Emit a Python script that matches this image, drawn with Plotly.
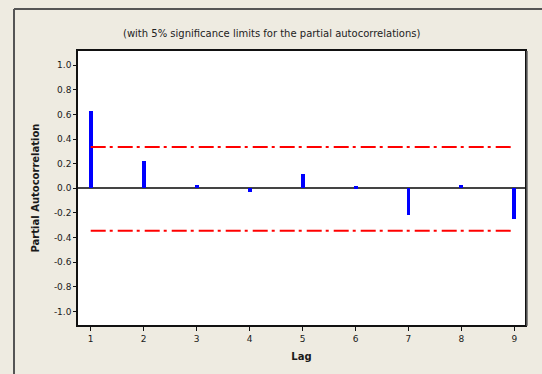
import plotly.graph_objects as go

lags = [1, 2, 3, 4, 5, 6, 7, 8, 9]
pacf = [0.63, 0.22, 0.03, -0.03, 0.12, 0.015, -0.22, 0.03, -0.25]
upper_limit = 0.335
lower_limit = -0.345
y_ticks = [1.0, 0.8, 0.6, 0.4, 0.2, 0.0, -0.2, -0.4, -0.6, -0.8, -1.0]
y_tick_text = ["1.0", "0.8", "0.6", "0.4", "0.2", "0.0", "-0.2", "-0.4", "-0.6", "-0.8", "-1.0"]

FONT = "DejaVu Sans, Liberation Sans, sans-serif"
BG = "#EEEBE1"

fig = go.Figure()

fig.add_trace(go.Bar(x=lags, y=pacf, width=0.075, marker=dict(color="#0000FF", line=dict(width=0)),
                     showlegend=False, hoverinfo="x+y"))
fig.add_trace(go.Scatter(x=[lags[0], lags[-1]], y=[upper_limit, upper_limit], mode="lines",
                         line=dict(color="#FF0000", width=2, dash="15px,4px,3px,5px"), showlegend=False))
fig.add_trace(go.Scatter(x=[lags[0], lags[-1]], y=[lower_limit, lower_limit], mode="lines",
                         line=dict(color="#FF0000", width=2, dash="15px,4px,3px,5px"), showlegend=False))

fig.update_layout(
    width=542, height=374,
    margin=dict(l=78, r=17, t=51, b=49),
    paper_bgcolor=BG, plot_bgcolor="white",
    font=dict(family=FONT, size=9, color="#1a1a1a"),
    bargap=0,
    xaxis=dict(range=[0.76, 9.2], tickmode="array", tickvals=lags, ticktext=[str(v) for v in lags],
               showgrid=False, zeroline=False, showline=True, linecolor="#111111", linewidth=1.5,
               mirror=True, ticks="outside", ticklen=4, tickwidth=1, tickcolor="#111111",
               title=dict(text="<b>Lag</b>", standoff=10, font=dict(size=10)),
               tickfont=dict(size=9)),
    yaxis=dict(range=[-1.11, 1.115], tickmode="array", tickvals=y_ticks, ticktext=y_tick_text,
               showgrid=False, zeroline=True, zerolinecolor="#444444", zerolinewidth=1.5,
               showline=True, linecolor="#111111", linewidth=1.5, mirror=True,
               ticks="outside", ticklen=3, tickwidth=1, tickcolor="#111111",
               title=dict(text="<b>Partial Autocorrelation</b>", standoff=12, font=dict(size=10)),
               tickfont=dict(size=9)),
)

# title annotation
fig.add_annotation(text="(with 5% significance limits for the partial autocorrelations)",
                   xref="paper", yref="paper", x=0.435, y=1.0, yshift=18, showarrow=False,
                   font=dict(size=10, color="#222222"), xanchor="center", yanchor="middle")

# outer frame (left and top)
fig.add_shape(type="line", xref="paper", yref="paper", x0=-64 / 447, x1=-64 / 447, y0=-2, y1=(325 - 9) / 274,
              line=dict(color="#555555", width=2))
fig.add_shape(type="line", xref="paper", yref="paper", x0=-64 / 447, x1=2, y0=(325 - 9) / 274, y1=(325 - 9) / 274,
              line=dict(color="#555555", width=2))
# right shadow of plot area
fig.add_shape(type="line", xref="paper", yref="paper", x0=1 + 2 / 447, x1=1 + 2 / 447, y0=-0.003, y1=1.0,
              line=dict(color="#666666", width=1.5))

fig.write_html("out.html")
